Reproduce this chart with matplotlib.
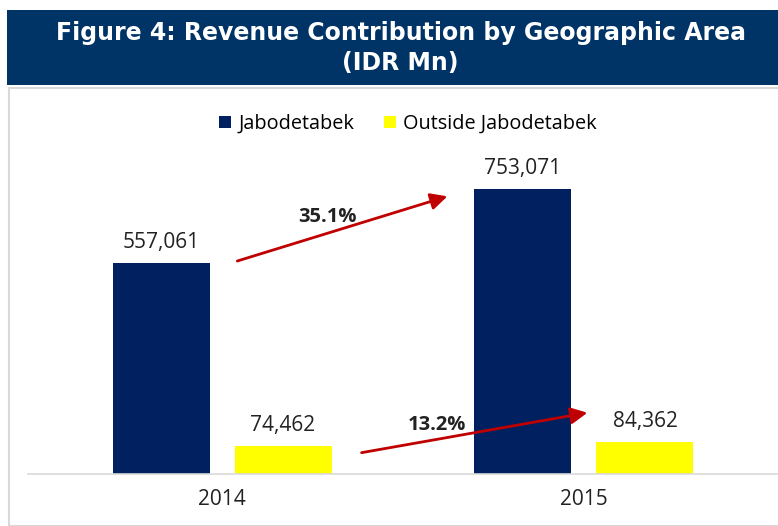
import matplotlib
matplotlib.use('Agg')
import matplotlib.pyplot as plt
from matplotlib.patches import Rectangle
import numpy as np

years = ['2014', '2015']
jabodetabek = [557061, 753071]
outside = [74462, 84362]
growth_labels = ['35.1%', '13.2%']

navy = '#002060'
yellow = '#FFFF00'
red = '#C00000'

plt.rcParams['font.family'] = ['Open Sans', 'DejaVu Sans']

fig = plt.figure(figsize=(7.78, 5.26), dpi=100)

# title banner + light frame
fig.patches.append(Rectangle((9/778, 0), 1, 1 - 88/526, transform=fig.transFigure,
                             facecolor='white', edgecolor='#D9D9D9', lw=1.5, zorder=-1))
fig.patches.append(Rectangle((7/778, 1 - 85/526), 1, 75/526, transform=fig.transFigure,
                             facecolor='#003366', edgecolor='none', zorder=-1))
fig.text(0.515, 1 - 48/526, 'Figure 4: Revenue Contribution by Geographic Area\n(IDR Mn)',
         ha='center', va='center', color='white', fontsize=17, fontweight='bold',
         family='DejaVu Sans', linespacing=1.35)

ax = fig.add_axes([28/778, 52/526, 750/778, 341/526])
ax.patch.set_alpha(0)
x = np.arange(len(years))
w = 0.268
off = 0.1685
b1 = ax.bar(x - off, jabodetabek, w, color=navy, label='Jabodetabek')
b2 = ax.bar(x + off, outside, w, color=yellow, label='Outside Jabodetabek')
ax.set_xlim(-0.536, 1.536)
ax.set_ylim(0, 900000)

for bars in (b1, b2):
    for r in bars:
        ax.annotate(f'{int(r.get_height()):,}', (r.get_x() + r.get_width()/2, r.get_height()),
                    xytext=(0, 7), textcoords='offset points', ha='center', va='bottom',
                    fontsize=15, color='#222222')

# growth arrows
ax.annotate('', xy=(0.63, 735000), xytext=(0.035, 560000),
            arrowprops=dict(arrowstyle='-|>', color=red, lw=2, mutation_scale=25))
ax.annotate('', xy=(1.017, 163000), xytext=(0.378, 55000),
            arrowprops=dict(arrowstyle='-|>', color=red, lw=2, mutation_scale=25))
ax.text(0.29, 677000, growth_labels[0], ha='center', va='center', fontsize=14.5,
        fontweight='bold', color='#222222')
ax.text(0.593, 130000, growth_labels[1], ha='center', va='center', fontsize=14.5,
        fontweight='bold', color='#222222')

for s in ['top', 'right', 'left']:
    ax.spines[s].set_visible(False)
ax.spines['bottom'].set_color('#D9D9D9')
ax.spines['bottom'].set_linewidth(1.2)
ax.set_yticks([])
ax.set_xticks(x)
ax.set_xticklabels(years, fontsize=15, color='#222222')
ax.tick_params(axis='x', length=0, pad=11)

fig.legend(handles=[b1, b2], loc='center', bbox_to_anchor=(0.5244, 1 - 124/526),
           ncol=2, frameon=False, fontsize=14.3, handlelength=0.6, handleheight=0.6,
           columnspacing=1.5, handletextpad=0.35)

fig.savefig('out.png', dpi=100)
